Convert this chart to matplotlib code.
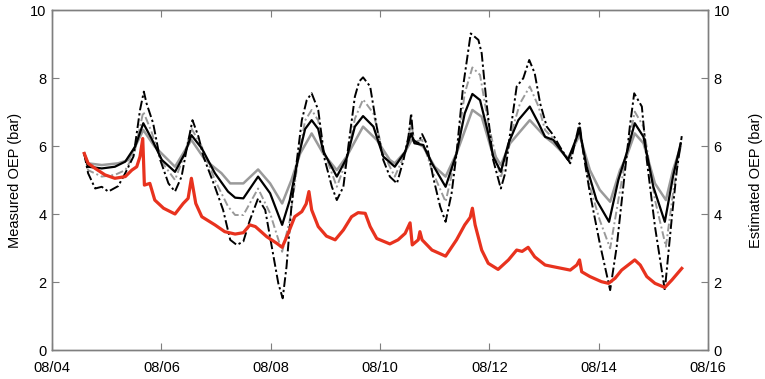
import matplotlib
matplotlib.use("Agg")
import matplotlib.pyplot as plt

plt.rcParams['font.family'] = ['Liberation Sans', 'DejaVu Sans']

# time in days since 08/04 00:00
xtick_labels = ["08/04", "08/06", "08/08", "08/10", "08/12", "08/14", "08/16"]
xtick_days = [0, 2, 4, 6, 8, 10, 12]

# Measured OEP (red)
meas_t = [0.59, 0.66, 0.79, 0.97, 1.15, 1.34, 1.46, 1.55, 1.61, 1.66, 1.69, 1.79, 1.88, 2.04, 2.25,
          2.40, 2.49, 2.55, 2.63, 2.74, 2.98, 3.16, 3.35, 3.50, 3.62, 3.72, 3.93, 4.11, 4.21, 4.32,
          4.44, 4.57, 4.65, 4.70, 4.75, 4.87, 5.02, 5.18, 5.33, 5.48, 5.60, 5.73, 5.82, 5.94, 6.18,
          6.33, 6.46, 6.55, 6.59, 6.70, 6.73, 6.77, 6.95, 7.20, 7.40, 7.55, 7.65, 7.69, 7.74, 7.86,
          7.98, 8.16, 8.35, 8.50, 8.60, 8.71, 8.83, 9.02, 9.17, 9.48, 9.60, 9.65, 9.69, 9.84, 10.05,
          10.18, 10.30, 10.42, 10.54, 10.66, 10.76, 10.88, 11.03, 11.21, 11.34, 11.52]
meas_v = [5.78, 5.49, 5.34, 5.15, 5.05, 5.10, 5.29, 5.39, 5.69, 6.22, 4.85, 4.90, 4.41, 4.17, 4.00,
          4.31, 4.46, 5.05, 4.31, 3.92, 3.68, 3.48, 3.41, 3.45, 3.68, 3.63, 3.33, 3.14, 3.02, 3.43,
          3.92, 4.07, 4.30, 4.66, 4.12, 3.63, 3.35, 3.24, 3.53, 3.92, 4.04, 4.02, 3.63, 3.28, 3.12,
          3.24, 3.43, 3.74, 3.09, 3.24, 3.48, 3.24, 2.94, 2.76, 3.24, 3.68, 3.90, 4.17, 3.68, 2.94,
          2.55, 2.37, 2.65, 2.94, 2.90, 3.02, 2.74, 2.50, 2.45, 2.35, 2.50, 2.65, 2.30, 2.16, 2.01,
          1.96, 2.11, 2.35, 2.50, 2.65, 2.50, 2.16, 1.96, 1.84, 2.06, 2.40]

# Estimated OEP, black dash-dot
dd_t = [0.59, 0.66, 0.79, 0.91, 1.03, 1.21, 1.34, 1.49, 1.61, 1.68, 1.73, 1.85, 1.98, 2.13, 2.25,
        2.37, 2.46, 2.57, 2.68, 2.77, 2.98, 3.13, 3.26, 3.38, 3.50, 3.62, 3.77, 3.90, 4.02, 4.14,
        4.22, 4.29, 4.38, 4.48, 4.57, 4.66, 4.75, 4.87, 4.99, 5.12, 5.21, 5.33, 5.42, 5.54, 5.62,
        5.69, 5.82, 5.94, 6.06, 6.18, 6.31, 6.43, 6.52, 6.57, 6.61, 6.70, 6.77, 6.85, 6.97, 7.10,
        7.20, 7.31, 7.40, 7.52, 7.66, 7.80, 7.86, 7.95, 8.07, 8.21, 8.29, 8.38, 8.50, 8.62, 8.73,
        8.83, 8.93, 9.05, 9.17, 9.29, 9.48, 9.65, 9.72, 9.84, 10.02, 10.21, 10.33, 10.45, 10.57,
        10.65, 10.79, 10.88, 11.03, 11.21, 11.34, 11.43, 11.52]
dd_v = [5.78, 5.20, 4.75, 4.80, 4.66, 4.82, 5.20, 5.69, 7.06, 7.60, 7.25, 6.67, 5.59, 4.90, 4.66,
        5.10, 5.88, 6.76, 6.27, 5.69, 4.80, 4.12, 3.24, 3.09, 3.19, 3.82, 4.46, 4.12, 3.04, 1.96,
        1.52, 2.45, 4.22, 5.59, 6.76, 7.35, 7.55, 7.06, 5.59, 4.80, 4.41, 4.80, 5.98, 7.45, 7.90,
        8.02, 7.75, 6.57, 5.59, 5.10, 4.90, 5.59, 6.27, 6.96, 6.18, 6.08, 6.35, 6.08, 5.10, 4.22,
        3.77, 4.61, 5.78, 7.75, 9.31, 9.12, 8.73, 7.25, 5.59, 4.75, 5.20, 6.37, 7.75, 7.99, 8.53,
        8.14, 7.25, 6.57, 6.32, 5.98, 5.49, 6.67, 5.78, 4.61, 3.14, 1.76, 3.04, 4.80, 6.57,
        7.55, 7.16, 5.59, 3.63, 1.76, 3.92, 5.29, 6.29]

# Estimated OEP, gray dashed
gd_t = [0.59, 0.66, 0.91, 1.15, 1.34, 1.50, 1.67, 1.82, 2.00, 2.25, 2.43, 2.55, 2.74, 2.98, 3.22,
        3.35, 3.50, 3.77, 3.99, 4.21, 4.35, 4.51, 4.63, 4.75, 4.87, 4.96, 5.21, 5.39, 5.54, 5.69,
        5.88, 6.06, 6.27, 6.46, 6.57, 6.63, 6.77, 6.95, 7.20, 7.40, 7.55, 7.69, 7.83, 7.98, 8.21,
        8.38, 8.56, 8.74, 8.90, 9.02, 9.17, 9.46, 9.65, 9.84, 10.02, 10.21, 10.36, 10.51, 10.66,
        10.82, 11.03, 11.23, 11.36, 11.50]
gd_v = [5.78, 5.29, 5.10, 5.15, 5.29, 5.75, 7.01, 6.42, 5.55, 5.00, 5.78, 6.52, 5.98, 5.00, 4.22,
        3.97, 3.97, 4.75, 4.02, 2.89, 3.82, 5.69, 6.75, 7.06, 6.75, 5.90, 4.80, 5.59, 6.80, 7.37,
        6.96, 5.78, 5.10, 5.78, 6.67, 6.13, 6.18, 5.29, 4.36, 5.78, 7.55, 8.31, 8.09, 6.67, 5.05,
        6.27, 7.25, 7.75, 7.16, 6.47, 6.22, 5.54, 6.57, 4.80, 3.82, 2.99, 4.41, 5.78, 7.01,
        6.57, 4.41, 3.04, 4.61, 6.08]

# Estimated OEP, black solid
bs_t = [0.59, 0.66, 0.91, 1.15, 1.34, 1.52, 1.67, 1.82, 2.01, 2.25, 2.43, 2.55, 2.74, 2.98, 3.22,
        3.35, 3.50, 3.77, 3.99, 4.21, 4.35, 4.51, 4.63, 4.75, 4.87, 4.96, 5.21, 5.39, 5.54, 5.69,
        5.88, 6.06, 6.27, 6.46, 6.57, 6.63, 6.79, 6.95, 7.20, 7.40, 7.55, 7.69, 7.83, 7.98, 8.07,
        8.21, 8.35, 8.53, 8.74, 8.90, 9.02, 9.17, 9.44, 9.65, 9.78, 9.96, 10.19, 10.36, 10.51,
        10.66, 10.82, 11.00, 11.21, 11.36, 11.50]
bs_v = [5.78, 5.39, 5.34, 5.39, 5.54, 5.98, 6.67, 6.22, 5.59, 5.24, 5.78, 6.32, 5.93, 5.20, 4.66,
        4.48, 4.46, 5.10, 4.61, 3.68, 4.41, 5.69, 6.50, 6.76, 6.50, 5.85, 5.10, 5.64, 6.57, 6.88,
        6.57, 5.69, 5.39, 5.83, 6.37, 6.08, 6.03, 5.49, 4.80, 5.78, 6.96, 7.53, 7.35, 6.37, 5.69,
        5.24, 6.08, 6.76, 7.16, 6.67, 6.27, 6.18, 5.59, 6.47, 5.39, 4.41, 3.77, 5.00, 5.78,
        6.67, 6.27, 4.80, 3.77, 5.10, 6.08]

# Estimated OEP, gray solid
gs_t = [0.59, 0.66, 0.91, 1.21, 1.40, 1.67, 1.88, 2.25, 2.55, 2.80, 3.10, 3.26, 3.50, 3.77, 3.99,
        4.21, 4.38, 4.54, 4.75, 4.96, 5.21, 5.39, 5.69, 5.94, 6.18, 6.27, 6.46, 6.58, 6.79, 7.00,
        7.20, 7.40, 7.69, 7.86, 8.04, 8.21, 8.38, 8.74, 9.02, 9.17, 9.44, 9.65, 9.84, 10.02, 10.21,
        10.39, 10.51, 10.66, 10.82, 11.03, 11.23, 11.36, 11.50]
gs_v = [5.78, 5.49, 5.44, 5.49, 5.59, 6.47, 5.98, 5.39, 6.18, 5.59, 5.20, 4.90, 4.90, 5.31, 4.90,
        4.31, 5.00, 5.78, 6.37, 5.78, 5.29, 5.69, 6.57, 6.18, 5.59, 5.49, 5.83, 6.18, 5.98, 5.39,
        5.10, 5.78, 7.06, 6.86, 5.88, 5.44, 6.08, 6.76, 6.27, 6.08, 5.64, 6.32, 5.29, 4.71, 4.36,
        5.29, 5.69, 6.37, 6.08, 4.90, 4.41, 5.29, 5.98]

fig = plt.figure(figsize=(7.65, 3.79), dpi=100)
ax = fig.add_axes([52/765, 1-350/379, (708-52)/765, (350-10)/379])
ax2 = ax.twinx()

gray = '#9a9a9a'
ax2.plot(gs_t, gs_v, color=gray, lw=1.8, zorder=2)
ax2.plot(gd_t, gd_v, color=gray, lw=1.4, ls=(0, (4, 1.5, 1, 1.5)), zorder=3)
ax2.plot(bs_t, bs_v, color='black', lw=1.6, zorder=4)
ax2.plot(dd_t, dd_v, color='black', lw=1.4, ls=(0, (5, 1.5, 1.2, 1.5)), zorder=5)
ax2.plot(meas_t, meas_v, color='#e8321e', lw=2.3, zorder=6)

spine_c = '#7f7f7f'
for a in (ax, ax2):
    a.set_xlim(0, 12)
    a.set_ylim(0, 10)
    a.set_yticks([0, 2, 4, 6, 8, 10])
    for s in a.spines.values():
        s.set_color(spine_c)
        s.set_linewidth(1.0)
    a.tick_params(direction='in', length=5, color=spine_c, labelsize=10.5, pad=4)

ax.set_xticks(xtick_days)
ax.set_xticklabels(xtick_labels)
ax.tick_params(axis='x', top=True, bottom=True, pad=8)
ax.set_ylabel('Measured OEP (bar)', fontsize=10.5, labelpad=6)
ax2.set_ylabel('Estimated OEP (bar)', fontsize=10.5, labelpad=14)

fig.savefig('out.png', dpi=100)
